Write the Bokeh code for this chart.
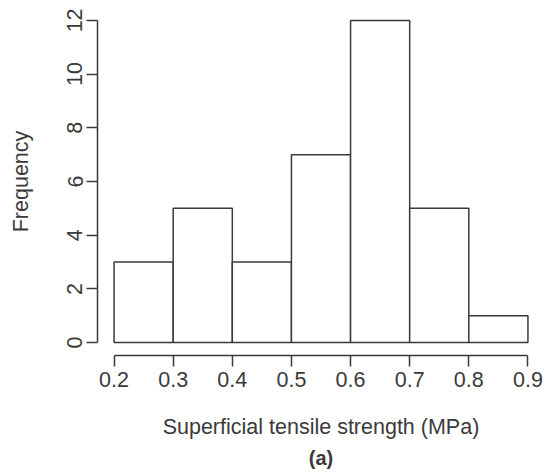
from bokeh.plotting import figure
from bokeh.models import Range1d, FixedTicker, Title
from bokeh.embed import file_html
from bokeh.resources import INLINE

bin_left = [0.2, 0.3, 0.4, 0.5, 0.6, 0.7, 0.8]
bin_right = [0.3, 0.4, 0.5, 0.6, 0.7, 0.8, 0.9]
counts = [3, 5, 3, 7, 12, 5, 1]
x_ticks = [0.2, 0.3, 0.4, 0.5, 0.6, 0.7, 0.8, 0.9]
y_ticks = [0, 2, 4, 6, 8, 10, 12]

INK = "#3a3a3a"
FONT = "Liberation Sans"

p = figure(width=544, height=475, output_backend="svg", toolbar_location=None,
           x_range=Range1d(0.172, 0.928), y_range=Range1d(-0.48, 12.48),
           min_border_left=97, min_border_right=0, min_border_top=7, min_border_bottom=120)
p.outline_line_color = None
p.xgrid.visible = False
p.ygrid.visible = False
p.background_fill_color = "white"
p.border_fill_color = "white"

p.quad(left=bin_left, right=bin_right, top=counts, bottom=0,
       fill_color="white", line_color=INK, line_width=1.5)

xa = p.xaxis[0]
xa.ticker = FixedTicker(ticks=x_ticks)
xa.bounds = (0.2, 0.9)
xa.axis_label = "Superficial tensile strength (MPa)"
ya = p.yaxis[0]
ya.ticker = FixedTicker(ticks=y_ticks)
ya.bounds = (0, 12)
ya.axis_label = "Frequency"
ya.major_label_orientation = "vertical"

for ax in (xa, ya):
    ax.axis_line_color = INK
    ax.axis_line_width = 1.5
    ax.major_tick_line_color = INK
    ax.major_tick_line_width = 1.5
    ax.major_tick_out = 11
    ax.major_tick_in = 0
    ax.minor_tick_line_color = None
    ax.major_label_text_font = FONT
    ax.major_label_text_font_size = "21.5px"
    ax.major_label_text_color = INK
    ax.axis_label_text_font = FONT
    ax.axis_label_text_font_size = "21.5px"
    ax.axis_label_text_color = INK
    ax.axis_label_text_font_style = "normal"

xa.major_label_standoff = 5
xa.axis_label_standoff = 25
ya.major_label_standoff = 4
ya.axis_label_standoff = 32

cap = Title(text="(a)", align="center", text_font=FONT, text_font_size="20px",
            text_font_style="bold", text_color=INK, standoff=6)
p.add_layout(cap, "below")

open("out.html", "w").write(file_html(p, INLINE))
